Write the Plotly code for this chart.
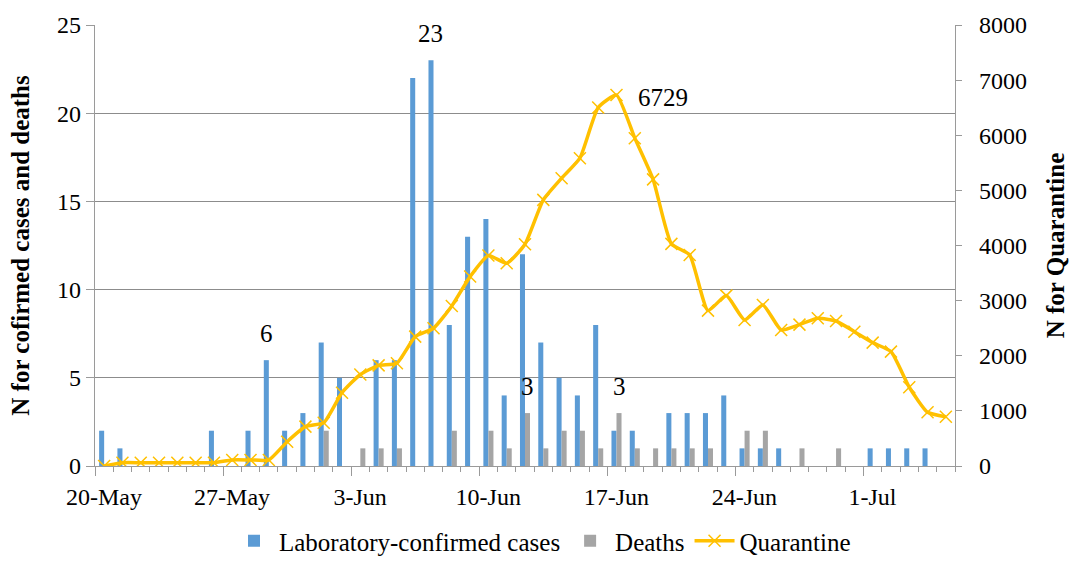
import plotly.graph_objects as go

dates = ["20-May","21-May","22-May","23-May","24-May","25-May","26-May","27-May","28-May","29-May",
         "30-May","31-May","1-Jun","2-Jun","3-Jun","4-Jun","5-Jun","6-Jun","7-Jun","8-Jun",
         "9-Jun","10-Jun","11-Jun","12-Jun","13-Jun","14-Jun","15-Jun","16-Jun","17-Jun","18-Jun",
         "19-Jun","20-Jun","21-Jun","22-Jun","23-Jun","24-Jun","25-Jun","26-Jun","27-Jun","28-Jun",
         "29-Jun","30-Jun","1-Jul","2-Jul","3-Jul","4-Jul","5-Jul"]

confirmed = [2,1,0,0,0,0,2,0,2,6,
             2,3,7,5,0,6,6,22,23,8,
             13,14,4,12,7,5,4,8,2,2,
             0,3,3,3,4,1,1,1,0,0,
             0,0,1,1,1,1,0]

deaths = [0,0,0,0,0,0,0,0,0,0,
          0,0,2,0,1,1,1,0,0,2,
          0,2,1,3,1,2,2,1,3,1,
          1,1,1,1,0,2,2,0,1,0,
          1,0,0,0,0,0,0]

quarantine = [0,60,60,60,60,60,60,110,110,110,
              441,714,786,1330,1660,1825,1864,2347,2499,2904,
              3436,3817,3679,4024,4828,5221,5584,6503,6729,5947,
              5200,4030,3829,2819,3091,2650,2922,2468,2565,2680,
              2630,2437,2238,2075,1428,975,895]

tick_labels = ["20-May","27-May","3-Jun","10-Jun","17-Jun","24-Jun","1-Jul"]

# labelled points
label_confirmed = ["29-May", "7-Jun"]
label_deaths = ["12-Jun", "17-Jun"]
label_quarantine = ["17-Jun"]

FONT = "Liberation Serif"
BLUE = "#5B9BD5"
GRAY = "#A5A5A5"
GOLD = "#FFC000"
AX = "#9a9a9a"

idx = list(range(len(dates)))

fig = go.Figure()
fig.add_trace(go.Bar(x=idx, y=confirmed, name="Laboratory-confirmed cases",
                     marker=dict(color=BLUE, line=dict(width=0))))
fig.add_trace(go.Bar(x=idx, y=deaths, name="Deaths",
                     marker=dict(color=GRAY, line=dict(width=0))))
fig.add_trace(go.Scatter(x=idx, y=quarantine, name="Quarantine", yaxis="y2",
                         mode="lines+markers",
                         line=dict(color=GOLD, width=3.5, shape="spline", smoothing=0.5),
                         marker=dict(symbol="x-thin", size=12, color=GOLD,
                                     line=dict(width=1.5, color=GOLD))))

bar_off = 0.1375
annotations = []
for d in label_confirmed:
    i = dates.index(d)
    annotations.append(dict(x=i - bar_off, y=confirmed[i], xref="x", yref="y",
                            text=str(confirmed[i]), showarrow=False, yshift=27,
                            font=dict(family=FONT, size=25, color="black")))
for d in label_deaths:
    i = dates.index(d)
    annotations.append(dict(x=i + bar_off, y=deaths[i], xref="x", yref="y",
                            text=str(deaths[i]), showarrow=False, yshift=27,
                            font=dict(family=FONT, size=25, color="black")))
for d in label_quarantine:
    i = dates.index(d)
    annotations.append(dict(x=i, y=quarantine[i], xref="x", yref="y2",
                            text=str(quarantine[i]), showarrow=False, xanchor="left",
                            xshift=20, yshift=-2,
                            font=dict(family=FONT, size=25, color="black")))

tickvals = [dates.index(t) - 0.5 for t in tick_labels]

fig.update_layout(
    width=1070, height=564,
    margin=dict(l=95, r=115, t=25, b=98),
    paper_bgcolor="white", plot_bgcolor="white",
    barmode="group", bargap=0.45, bargroupgap=0,
    font=dict(family=FONT, size=24, color="black"),
    showlegend=True,
    legend=dict(orientation="h", xref="container", yref="container",
                x=0.507, xanchor="center", y=-0.013, yanchor="bottom",
                font=dict(family=FONT, size=25, color="black"),
                itemwidth=40, tracegroupgap=0, borderwidth=0),
    xaxis=dict(range=[-0.5, len(dates) - 0.5], tickmode="array",
               tickvals=tickvals, ticktext=tick_labels, ticklabelshift=9,
               ticks="outside", ticklen=9, tickcolor=AX,
               minor=dict(tick0=-0.5, dtick=1, ticks="outside", ticklen=5, tickcolor=AX),
               showline=True, linecolor=AX, linewidth=1.3, showgrid=False, zeroline=False,
               tickfont=dict(family=FONT, size=24), automargin=False),
    yaxis=dict(range=[0, 25], dtick=5, showgrid=True, gridcolor="#8c8c8c", gridwidth=1,
               showline=True, linecolor=AX, linewidth=1.3, ticks="outside", ticklen=8,
               tickcolor=AX, zeroline=False,
               tickfont=dict(family=FONT, size=24),
               title=dict(text="<b>N for cofirmed cases and deaths</b>",
                          font=dict(family=FONT, size=25), standoff=20),
               automargin=False),
    yaxis2=dict(range=[0, 8000], dtick=1000, overlaying="y", side="right",
                showgrid=False, showline=True, linecolor=AX, linewidth=1.3,
                ticks="outside", ticklen=6, tickcolor=AX, zeroline=False,
                ticklabelstandoff=12,
                tickfont=dict(family=FONT, size=24),
                title=dict(text="<b>N for Quarantine</b>",
                           font=dict(family=FONT, size=25), standoff=20),
                automargin=False),
    annotations=annotations,
)

fig.write_html("out.html", config={"displayModeBar": False},
               post_script="document.body.style.margin='0';document.body.style.overflow='hidden';")
